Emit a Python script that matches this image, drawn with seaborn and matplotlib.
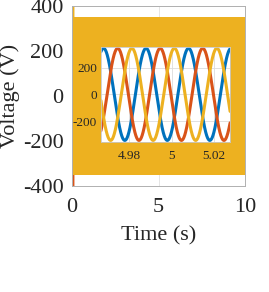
import numpy as np
import pandas as pd
import matplotlib
matplotlib.use("Agg")
import matplotlib.pyplot as plt
import seaborn as sns

# ---- data ----
phases = ["A", "B", "C"]
phase_colors = ["#0072BD", "#D95319", "#EDB120"]
phase_shift_deg = [0, -120, -240]
freq_hz = 50.0
amplitude_v = 345.0
peak_time_a = 4.968          # time of a phase-A peak (s)
t_start = [0.04, 0.08]
t_end = 10.0
startup_values = [[0.0, 0.0], [-450.0, -450.0], [450.0, 450.0]]   # transient at start-up
main_xticks = [0, 5, 10]
main_yticks = [-400, -200, 0, 200, 400]
inset_xlim = [4.9668, 5.0275]
inset_xticks = [4.98, 5.0, 5.02]
inset_xticklabels = ["4.98", "5", "5.02"]
inset_yticks = [-200, 0, 200]


def build(t, with_start):
    rows = []
    for name, sh, sv in zip(phases, phase_shift_deg, startup_values):
        v = amplitude_v * np.cos(2 * np.pi * freq_hz * (t - peak_time_a) + np.deg2rad(sh))
        tt = t
        if with_start:
            tt = np.concatenate([t_start, t])
            v = np.concatenate([sv, v])
        rows.append(pd.DataFrame({"t": tt, "v": v, "phase": name}))
    return pd.concat(rows, ignore_index=True)


t_main = np.linspace(t_start[-1] + 0.001, t_end, 20000)
df_main = build(t_main, True)
t_in = np.linspace(inset_xlim[0] - 0.001, inset_xlim[1] + 0.001, 1500)
df_in = build(t_in, False)

sns.set_theme(style="white")
plt.rcParams["font.family"] = ["Liberation Serif", "DejaVu Serif"]
plt.rcParams["axes.unicode_minus"] = False

W, H = 269, 292
fig = plt.figure(figsize=(W / 100, H / 100), dpi=100)
ax = fig.add_axes([72 / W, 1 - 186 / H, 173 / W, 180 / H])

sns.lineplot(data=df_main, x="t", y="v", hue="phase", palette=phase_colors,
             estimator=None, sort=False, linewidth=1.5, legend=False, ax=ax)
ax.set_xlim(0, 10)
ax.set_ylim(-400, 400)
ax.set_xticks(main_xticks)
ax.set_yticks(main_yticks)
ax.set_xticklabels([str(v) for v in main_xticks])
ax.set_yticklabels([str(v) for v in main_yticks])
ax.grid(True, color="#e0e0e0", linewidth=0.6)
ax.set_axisbelow(True)
for s in ax.spines.values():
    s.set_color("#b0b0b0")
    s.set_linewidth(0.7)
ax.tick_params(axis="both", length=0, labelsize=16, colors="#262626", pad=6)
ax.tick_params(axis="x", pad=9)
ax.set_xlabel("Time (s)", fontsize=16, color="#262626", labelpad=6)
ax.set_ylabel("Voltage (V)", fontsize=16, color="#262626", labelpad=2)

# inset
axi = fig.add_axes([101 / W, 1 - 142 / H, 129 / W, 95.3 / H])
sns.lineplot(data=df_in, x="t", y="v", hue="phase", palette=phase_colors,
             estimator=None, sort=False, linewidth=2.2, legend=False, ax=axi)
axi.set_facecolor("white")
axi.set_xlim(*inset_xlim)
axi.set_ylim(-357, 357)
axi.set_xticks(inset_xticks)
axi.set_xticklabels(inset_xticklabels)
axi.set_yticks(inset_yticks)
axi.set_yticklabels([str(v) for v in inset_yticks])
axi.grid(True, color="#dcdcdc", linewidth=0.6)
axi.set_axisbelow(True)
for s in axi.spines.values():
    s.set_color("#c8c8c8")
    s.set_linewidth(0.6)
axi.tick_params(axis="both", length=0, labelsize=9.5, colors="#262626", pad=3)
axi.tick_params(axis="x", pad=6)
axi.set_xlabel("")
axi.set_ylabel("")

fig.savefig("out.png", dpi=100)
